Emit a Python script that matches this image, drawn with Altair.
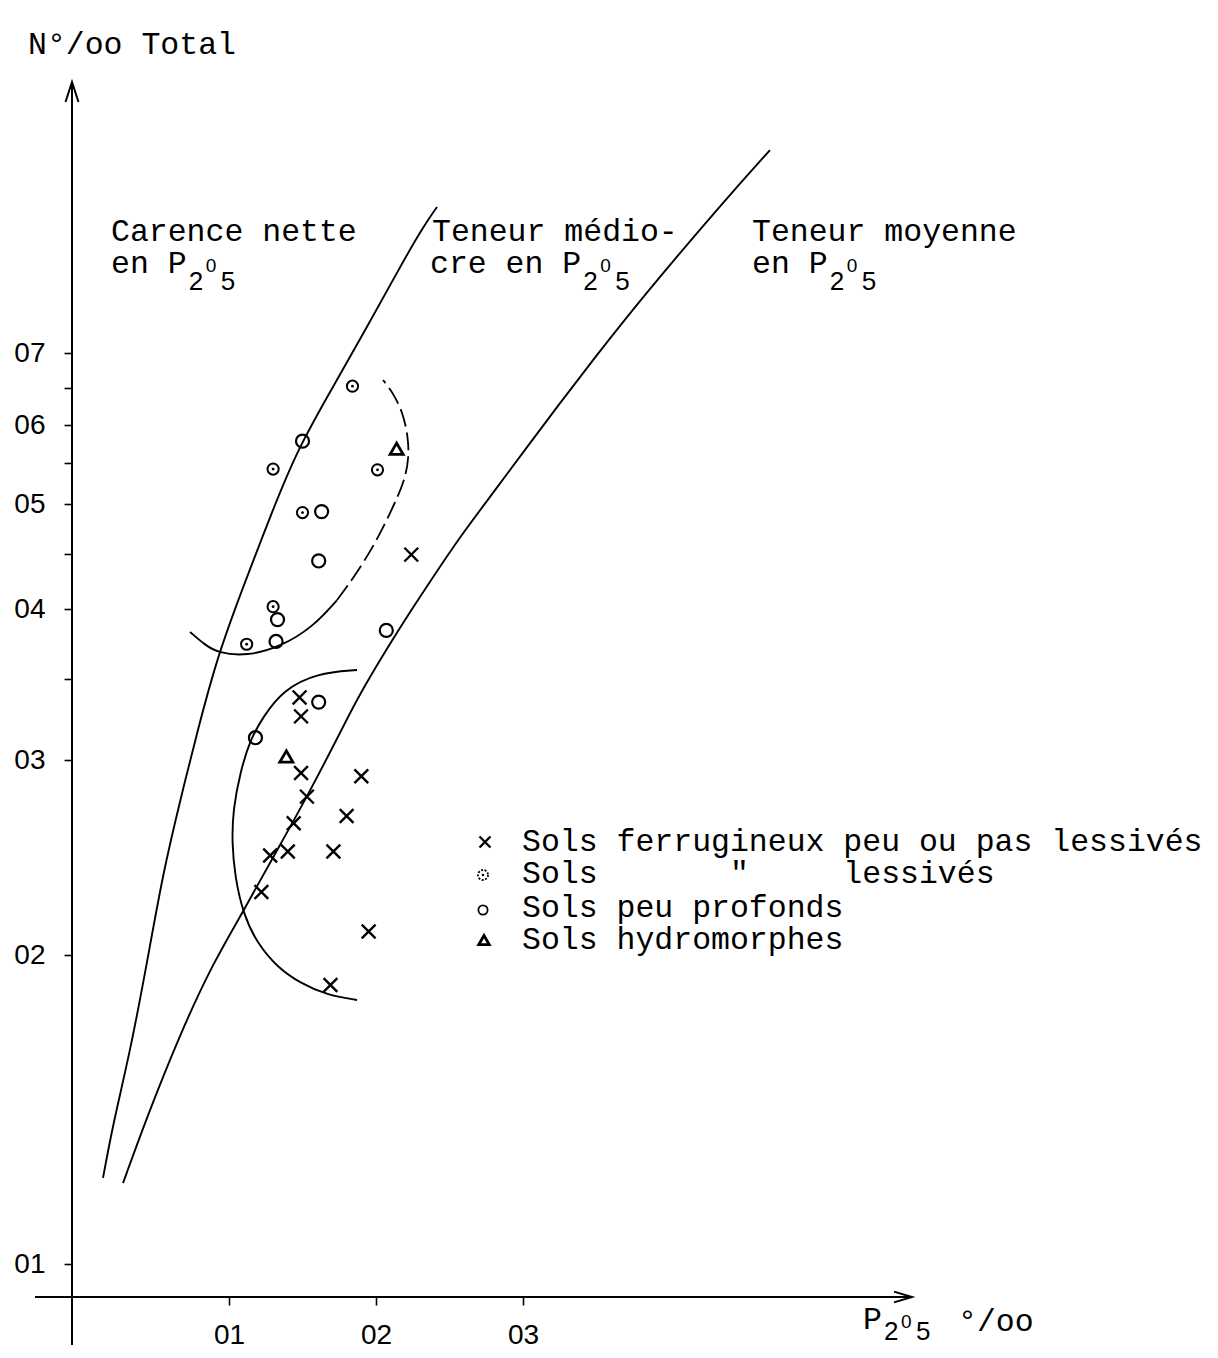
import altair as alt
import pandas as pd

# ---------------- data (x = P2O5 o/oo, y = N o/oo total, log axis) ----------------
# Sols ferrugineux peu ou pas lessivés (x marks)
ferr_x = [0.224, 0.148, 0.149, 0.149, 0.153, 0.190, 0.180, 0.144, 0.140, 0.128, 0.171, 0.122, 0.195, 0.169]
ferr_y = [0.449, 0.338, 0.326, 0.292, 0.278, 0.290, 0.267, 0.263, 0.248, 0.246, 0.248, 0.228, 0.210, 0.187]
# Sols ferrugineux lessivés (circle with dot)
less_x = [0.184, 0.130, 0.150, 0.201, 0.130, 0.112]
less_y = [0.652, 0.542, 0.491, 0.541, 0.402, 0.374]
# Sols peu profonds (open circle)
prof_x = [0.150, 0.163, 0.161, 0.133, 0.132, 0.207, 0.161, 0.118]
prof_y = [0.578, 0.492, 0.443, 0.392, 0.376, 0.384, 0.335, 0.313]
# Sols hydromorphes (triangle)
hydro_x = [0.214, 0.139]
hydro_y = [0.568, 0.302]

# boundary curves
left_x = [0.0143, 0.0211, 0.0327, 0.0442, 0.0551, 0.0667, 0.0782, 0.0925, 0.1122, 0.1279,
          0.1463, 0.1707, 0.1939, 0.2163, 0.2320, 0.2415]
left_y = [0.1213, 0.1369, 0.1609, 0.1964, 0.2372, 0.2755, 0.3158, 0.3671, 0.4281, 0.4864,
          0.5664, 0.6509, 0.740, 0.8415, 0.9168, 0.9569]
right_x = [0.0279, 0.0442, 0.0667, 0.0891, 0.1095, 0.1293, 0.1531, 0.1776, 0.1891, 0.2163,
           0.2388, 0.2571, 0.2796, 0.3027, 0.3252, 0.3476, 0.3796, 0.4374, 0.4680]
right_y = [0.1199, 0.1391, 0.1675, 0.1964, 0.2187, 0.2442, 0.2778, 0.3195, 0.3408, 0.3865,
           0.4281, 0.4662, 0.5129, 0.5703, 0.6289, 0.6896, 0.7841, 0.9713, 1.081]
# groupings drawn by hand
upper_solid_x = [0.0735, 0.0837, 0.0925, 0.1122, 0.1347, 0.1571, 0.1735]
upper_solid_y = [0.3829, 0.3735, 0.3679, 0.3657, 0.372, 0.3865, 0.4077]
upper_dash_x = [0.1735, 0.1871, 0.2007, 0.2116, 0.2197, 0.2224, 0.2218, 0.2184, 0.2116, 0.2048]
upper_dash_y = [0.4077, 0.4318, 0.4632, 0.4968, 0.5285, 0.5573, 0.5836, 0.6156, 0.6426, 0.6607]
lower_x = [0.1871, 0.1599, 0.1367, 0.1231, 0.1143, 0.1075, 0.1027, 0.1020, 0.1041, 0.1095,
           0.1190, 0.1327, 0.1483, 0.1667, 0.1871]
lower_y = [0.3561, 0.3541, 0.3428, 0.3256, 0.3116, 0.292, 0.2704, 0.2524, 0.2352, 0.2182,
           0.205, 0.1947, 0.1878, 0.1828, 0.1808]

x_ticks = [0.1, 0.2, 0.3]
y_major = [0.1, 0.2, 0.3, 0.4, 0.5, 0.6, 0.7]
y_minor = [0.35, 0.45, 0.55, 0.65]

legend_labels = [
    "Sols ferrugineux peu ou pas lessivés",
    "Sols\u00a0\u00a0\u00a0\u00a0\u00a0\u00a0\u00a0\"\u00a0\u00a0\u00a0\u00a0\u00a0lessivés",
    "Sols peu profonds",
    "Sols hydromorphes",
]

# ---------------- styling ----------------
MONO = "Liberation Mono"
SANS = "Liberation Sans"
W, H = 840, 1212
FS = 31.5
ADV = FS * 0.6

xscale = alt.Scale(domain=[-0.0068, 0.5646], nice=False, zero=False)
# hand-drawn logarithmic ruling: piecewise log scale through the drawn tick marks
yscale = alt.Scale(type="log", domain=y_major, range=[1179, 870, 675, 524, 419, 340, 268],
                   nice=False, zero=False)

x_axis = alt.Axis(values=x_ticks, labelExpr="'0' + round(datum.value*10)", domain=False,
                  grid=False, tickSize=8, tickWidth=1.6, tickColor="black",
                  labelFont=SANS, labelFontSize=28, labelColor="black", labelPadding=16,
                  labelOverlap=False, title=None)
y_axis = alt.Axis(values=sorted(y_major + y_minor),
                  labelExpr="round(datum.value*100) % 10 == 0 ? '0' + round(datum.value*10) : ''",
                  domain=False, grid=False, tickSize=8, tickWidth=1.6, tickColor="black",
                  labelFont=SANS, labelFontSize=28, labelColor="black", labelPadding=19,
                  labelOverlap=False, title=None)


def X():
    return alt.X("x:Q", scale=xscale, axis=x_axis)


def Y():
    return alt.Y("y:Q", scale=yscale, axis=y_axis)


def curve_df(name, xs, ys):
    return pd.DataFrame({"x": xs, "y": ys, "i": list(range(len(xs))), "curve": name})


solid_df = pd.concat([
    curve_df("left", left_x, left_y),
    curve_df("right", right_x, right_y),
    curve_df("upper", upper_solid_x, upper_solid_y),
    curve_df("lower", lower_x, lower_y),
])

curves = alt.Chart(solid_df).mark_line(
    interpolate="basis", color="black", strokeWidth=1.9
).encode(x=X(), y=Y(), detail="curve:N", order="i:Q")

dashed = alt.Chart(curve_df("upper_dash", upper_dash_x, upper_dash_y)).mark_line(
    interpolate="basis", color="black", strokeWidth=1.8, strokeDash=[18, 6]
).encode(x=X(), y=Y(), order="i:Q")

CROSS = "M-1,-1L1,1M-1,1L1,-1"

ferr = alt.Chart(pd.DataFrame({"x": ferr_x, "y": ferr_y})).mark_point(
    shape=CROSS, filled=False, size=190, stroke="black", strokeWidth=2.4, opacity=1
).encode(x=X(), y=Y())

less_df = pd.DataFrame({"x": less_x, "y": less_y})
less_c = alt.Chart(less_df).mark_point(
    shape="circle", filled=False, size=125, stroke="black", strokeWidth=2, opacity=1
).encode(x=X(), y=Y())
less_d = alt.Chart(less_df).mark_point(
    shape="circle", filled=True, size=8, color="black", opacity=1
).encode(x=X(), y=Y())

prof = alt.Chart(pd.DataFrame({"x": prof_x, "y": prof_y})).mark_point(
    shape="circle", filled=False, size=170, stroke="black", strokeWidth=2.2, opacity=1
).encode(x=X(), y=Y())

hydro = alt.Chart(pd.DataFrame({"x": hydro_x, "y": hydro_y})).mark_point(
    shape="triangle-up", filled=False, size=170, stroke="black", strokeWidth=2.8, opacity=1
).encode(x=X(), y=Y())

one = pd.DataFrame({"k": [0]})


def txt(s, x, y, font=MONO, size=FS):
    return alt.Chart(one).mark_text(
        text=s, align="left", baseline="alphabetic", font=font, fontSize=size, color="black"
    ).encode(x=alt.value(x), y=alt.value(y))


def p2o5(p_left, base, drop=17):
    # subscripted digits after the typed "P"
    return [
        txt("2", p_left + 21, base + drop, SANS, 26),
        txt("0", p_left + 38, base - 1, SANS, 19),
        txt("5", p_left + 53, base + drop, SANS, 26),
    ]


# axes lines and arrows
y_line = alt.Chart(one).mark_rule(color="black", strokeWidth=2).encode(
    x=alt.value(0), y=alt.value(-3), y2=alt.value(1260))
x_line = alt.Chart(one).mark_rule(color="black", strokeWidth=2).encode(
    x=alt.value(-37), x2=alt.value(W), y=alt.value(H))
up_arrow = alt.Chart(one).mark_point(
    shape="M-0.65,1L0,-1L0.65,1", filled=False, size=400, stroke="black", strokeWidth=2, opacity=1
).encode(x=alt.value(0), y=alt.value(7))
right_arrow = alt.Chart(one).mark_point(
    shape="M-1,-0.6L1,0L-1,0.6", filled=False, size=324, stroke="black", strokeWidth=2, opacity=1
).encode(x=alt.value(W - 9), y=alt.value(H))

texts = []
texts.append(txt("N°/oo Total", -44, -31))
texts.append(txt("P", 791, 1244))
texts += p2o5(791, 1244, drop=11)
texts.append(txt("°/oo", 886, 1246))

# region labels
texts.append(txt("Carence nette", 39, 156))
texts.append(txt("en P", 39, 188))
texts += p2o5(39 + 3 * ADV, 188)
texts.append(txt("Teneur médio-", 360, 156))
texts.append(txt("cre en P", 358, 188))
texts += p2o5(358 + 7 * ADV, 188)
texts.append(txt("Teneur moyenne", 680, 156))
texts.append(txt("en P", 680, 188))
texts += p2o5(680 + 3 * ADV, 188)

# legend
leg_base = [766, 798, 832, 864]
for lab, b in zip(legend_labels, leg_base):
    texts.append(txt(lab, 450, b))

lg_x = alt.Chart(one).mark_point(shape=CROSS, filled=False, size=120, stroke="black",
                                 strokeWidth=2.4, opacity=1).encode(x=alt.value(413), y=alt.value(757))
lg_less = alt.Chart(one).mark_point(shape="circle", filled=False, size=100, stroke="black",
                                    strokeWidth=1.8, strokeDash=[2, 1.5], opacity=1).encode(
    x=alt.value(411), y=alt.value(790))
lg_less_d = alt.Chart(one).mark_point(shape="circle", filled=True, size=6, color="black",
                                      opacity=1).encode(x=alt.value(411), y=alt.value(790))
lg_prof = alt.Chart(one).mark_point(shape="circle", filled=False, size=85, stroke="black",
                                    strokeWidth=1.8, opacity=1).encode(x=alt.value(411), y=alt.value(825))
lg_hyd = alt.Chart(one).mark_point(shape="triangle-up", filled=False, size=110, stroke="black",
                                   strokeWidth=2.8, opacity=1).encode(x=alt.value(412), y=alt.value(855))

chart = alt.layer(
    curves, dashed, ferr, less_c, less_d, prof, hydro,
    y_line, x_line, up_arrow, right_arrow,
    lg_x, lg_less, lg_less_d, lg_prof, lg_hyd,
    *texts,
).properties(
    width=W, height=H,
    padding={"left": 64, "top": 77, "right": 296, "bottom": 51},
    autosize="none",
    background="white",
).configure_view(strokeWidth=0, stroke="transparent")

chart.save("out.html", embed_options={"renderer": "svg", "actions": False})
